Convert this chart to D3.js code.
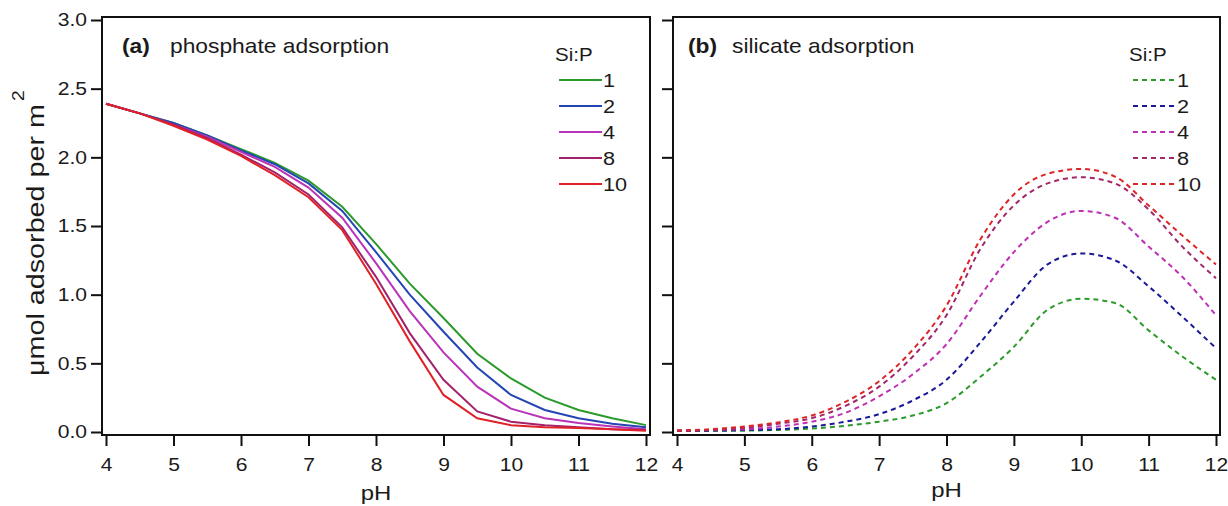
<!DOCTYPE html>
<html>
<head>
<meta charset="utf-8">
<script src="https://cdn.jsdelivr.net/npm/d3@7"></script>
<style>
  body { margin: 0; background: #fff; }
  svg { display: block; font-family: Arial, "Liberation Sans", sans-serif; }
</style>
</head>
<body>
<svg id="chart" width="1228" height="506"></svg>
<script>
// pH values shared by both panels
var pH = [4, 4.5, 5, 5.5, 6, 6.5, 7, 7.5, 8, 8.5, 9, 9.5, 10, 10.5, 11, 11.5, 12];

var ratios = ["1", "2", "4", "8", "10"];

// (a) phosphate adsorbed, one array per Si:P ratio
var phos1  = [2.39, 2.32, 2.25, 2.16, 2.06, 1.96, 1.83, 1.64, 1.37, 1.08, 0.83, 0.57, 0.39, 0.25, 0.16, 0.10, 0.05];
var phos2  = [2.39, 2.32, 2.25, 2.16, 2.05, 1.95, 1.81, 1.61, 1.31, 1.00, 0.73, 0.47, 0.27, 0.16, 0.10, 0.06, 0.035];
var phos4  = [2.39, 2.32, 2.24, 2.15, 2.04, 1.93, 1.78, 1.56, 1.23, 0.88, 0.58, 0.33, 0.17, 0.10, 0.065, 0.04, 0.02];
var phos8  = [2.39, 2.32, 2.24, 2.14, 2.02, 1.89, 1.73, 1.49, 1.13, 0.72, 0.38, 0.15, 0.075, 0.05, 0.035, 0.02, 0.015];
var phos10 = [2.39, 2.32, 2.23, 2.13, 2.01, 1.87, 1.71, 1.47, 1.08, 0.66, 0.27, 0.10, 0.05, 0.035, 0.03, 0.02, 0.01];

// (b) silicate adsorbed
var sil1  = [0.01, 0.01, 0.01, 0.015, 0.025, 0.045, 0.075, 0.12, 0.21, 0.40, 0.62, 0.89, 0.97, 0.94, 0.74, 0.55, 0.38];
var sil2  = [0.01, 0.01, 0.015, 0.02, 0.04, 0.075, 0.13, 0.23, 0.38, 0.65, 0.95, 1.22, 1.30, 1.25, 1.06, 0.84, 0.61];
var sil4  = [0.01, 0.015, 0.02, 0.04, 0.075, 0.14, 0.26, 0.42, 0.64, 0.99, 1.31, 1.53, 1.61, 1.56, 1.35, 1.13, 0.85];
var sil8  = [0.01, 0.015, 0.03, 0.06, 0.10, 0.19, 0.33, 0.55, 0.85, 1.33, 1.65, 1.81, 1.855, 1.81, 1.62, 1.35, 1.12];
var sil10 = [0.01, 0.02, 0.04, 0.07, 0.12, 0.22, 0.37, 0.60, 0.92, 1.40, 1.73, 1.88, 1.915, 1.86, 1.65, 1.43, 1.22];

var xTicks = [4, 5, 6, 7, 8, 9, 10, 11, 12];
var yTicks = [0, 0.5, 1.0, 1.5, 2.0, 2.5, 3.0];

var phosColors = ["#2a9a2a", "#2446b4", "#b934b9", "#a2226c", "#e02228"];
var silColors  = ["#2c9a2c", "#1a1a98", "#bf30b6", "#a2286a", "#de2424"];

var svg = d3.select("#chart");
var sx = 1.14; // text in the original is a little wide

function label(g, x, y, str, size, anchor, weight) {
	return g.append("text")
		.attr("transform", "translate(" + x + "," + y + ") scale(" + sx + ",1)")
		.attr("text-anchor", anchor || "start")
		.attr("font-size", size + "px")
		.attr("font-weight", weight || "normal")
		.attr("fill", "#1a1a1a")
		.text(str);
}

function panel(opt) {
	var x = d3.scaleLinear().domain([4, 12]).range([opt.x0, opt.x1]);
	var y = d3.scaleLinear().domain([0, 3]).range([432, 20]);

	var g = svg.append("g");

	// x axis
	var xa = g.append("g")
		.attr("transform", "translate(0,435)")
		.call(d3.axisBottom(x).tickValues(xTicks).tickSize(11).tickSizeOuter(0).tickPadding(12)
			.tickFormat(d3.format("d")));
	xa.select(".domain").remove();
	xa.selectAll(".tick line").attr("stroke", "#111").attr("stroke-width", 2);
	xa.selectAll(".tick text")
		.attr("font-size", "18.5px").attr("fill", "#1a1a1a")
		.attr("font-family", "Arial, 'Liberation Sans', sans-serif")
		.attr("transform", "scale(" + sx + ",1)");

	// y axis
	var ya = g.append("g")
		.attr("transform", "translate(" + (opt.x0 - 4) + ",0)")
		.call(d3.axisLeft(y).tickValues(yTicks).tickSize(11).tickSizeOuter(0).tickPadding(4)
			.tickFormat(opt.yLabels ? d3.format(".1f") : ""));
	ya.select(".domain").remove();
	ya.selectAll(".tick line").attr("stroke", "#111").attr("stroke-width", 2);
	ya.selectAll(".tick text")
		.attr("font-size", "18.5px").attr("fill", "#1a1a1a")
		.attr("font-family", "Arial, 'Liberation Sans', sans-serif")
		.attr("x", -15 / sx)
		.attr("transform", "scale(" + sx + ",1)");

	// frame
	g.append("rect")
		.attr("x", opt.x0 - 4).attr("y", 17)
		.attr("width", opt.x1 - opt.x0 + 8).attr("height", 418)
		.attr("fill", "none").attr("stroke", "#111").attr("stroke-width", 2);

	var line = d3.line()
		.x(function (d, i) { return x(pH[i]); })
		.y(function (d) { return y(d); })
		.curve(opt.curve);

	opt.series.forEach(function (s, i) {
		g.append("path")
			.attr("d", line(s))
			.attr("fill", "none")
			.attr("stroke", opt.colors[i])
			.attr("stroke-width", 2)
			.attr("stroke-dasharray", opt.dash || null);
	});

	// title
	label(g, opt.x0 + opt.tx, 53, opt.tag, 20, "start", "bold");
	label(g, opt.x0 + opt.tx2, 53, opt.title, 20);

	// legend
	label(g, opt.lx, 61, "Si:P", 18);
	ratios.forEach(function (r, i) {
		var yy = 80 + i * 26;
		g.append("line")
			.attr("x1", opt.lx + 4).attr("x2", opt.lx + 47)
			.attr("y1", yy).attr("y2", yy)
			.attr("stroke", opt.colors[i]).attr("stroke-width", 2)
			.attr("stroke-dasharray", opt.dash || null);
		label(g, opt.lx + 48, yy + 7, r, 19);
	});

	// x title
	label(g, (opt.x0 + opt.x1) / 2, opt.pHy, "pH", 21, "middle");
}

panel({ x0: 106, x1: 646, yLabels: true, series: [phos1, phos2, phos4, phos8, phos10],
	colors: phosColors, curve: d3.curveLinear, tag: "(a)", title: "phosphate adsorption",
	tx: 16, tx2: 64, lx: 555, pHy: 500 });
panel({ x0: 677, x1: 1216, yLabels: false, series: [sil1, sil2, sil4, sil8, sil10],
	colors: silColors, curve: d3.curveMonotoneX, dash: "5,4", tag: "(b)", title: "silicate adsorption",
	tx: 11, tx2: 55, lx: 1129, pHy: 497 });

// y axis title with the superscript 2 set apart, as in the original
svg.append("text")
	.attr("transform", "translate(44,104) rotate(-90) scale(1.25,1)")
	.attr("text-anchor", "end")
	.attr("font-size", "23px")
	.attr("fill", "#1a1a1a")
	.text("\u03bcmol adsorbed per m");
svg.append("text")
	.attr("transform", "translate(24,101) rotate(-90) scale(1.2,1)")
	.attr("text-anchor", "start")
	.attr("font-size", "16px")
	.attr("fill", "#1a1a1a")
	.text("2");
</script>
</body>
</html>
